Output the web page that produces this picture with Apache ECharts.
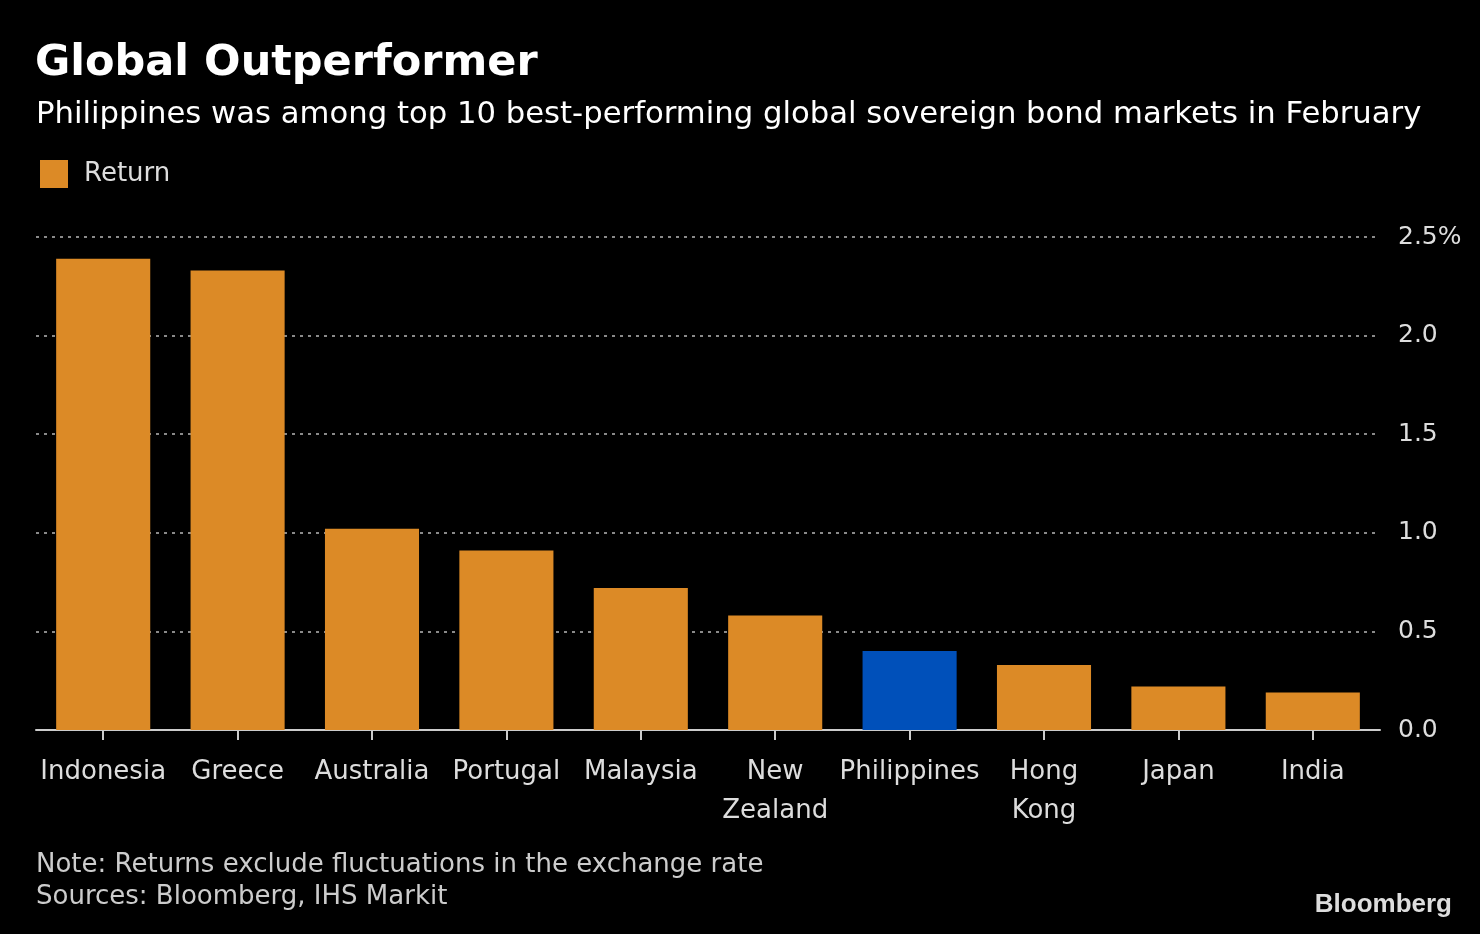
<!DOCTYPE html>
<html>
<head>
<meta charset="utf-8">
<script src="https://cdn.jsdelivr.net/npm/echarts@6/dist/echarts.min.js"></script>
<style>
html,body{margin:0;padding:0;background:#000;}
#chart{width:1480px;height:934px;}
</style>
</head>
<body>
<div id="chart"></div>
<script>
const categories = ['Indonesia','Greece','Australia','Portugal','Malaysia','New\nZealand','Philippines','Hong\nKong','Japan','India'];
const returns = [2.39, 2.33, 1.02, 0.91, 0.72, 0.58, 0.40, 0.33, 0.22, 0.19];
const highlight = 'Philippines';
const yTicks = [0, 0.5, 1.0, 1.5, 2.0, 2.5];

const FONT = 'DejaVu Sans';
const ORANGE = '#DC8A26';
const BLUE = '#0050BA';

const chart = echarts.init(document.getElementById('chart'), null, {renderer:'canvas'});
chart.setOption({
  backgroundColor: '#000',
  animation: false,
  title: [
    {text: 'Global Outperformer', left: 35, top: 42, padding: 0,
     textStyle: {color: '#fff', fontFamily: FONT, fontWeight: 'bold', fontSize: 43}},
    {text: 'Philippines was among top 10 best-performing global sovereign bond markets in February', left: 36, top: 100, padding: 0,
     textStyle: {color: '#fff', fontFamily: FONT, fontWeight: 'normal', fontSize: 30.7}},
    {text: 'Note: Returns exclude fluctuations in the exchange rate\nSources: Bloomberg, IHS Markit', left: 36, top: 849, padding: 0,
     textStyle: {color: '#ccc', fontFamily: FONT, fontWeight: 'normal', fontSize: 26, lineHeight: 32}},
    {text: 'Bloomberg', right: 28, top: 892, padding: 0,
     textStyle: {color: '#ddd', fontFamily: 'Liberation Sans', fontWeight: 'bold', fontSize: 26}}
  ],
  legend: {
    left: 40, top: 160, padding: 0, itemWidth: 28, itemHeight: 28, itemGap: 16,
    icon: 'rect',
    textStyle: {color: '#ddd', fontFamily: FONT, fontSize: 26, padding: [2, 0, 0, 11]},
    data: ['Return']
  },
  grid: {left: 36, right: 100, top: 237, bottom: 204},
  xAxis: {
    type: 'category',
    data: categories,
    axisLine: {show: true, lineStyle: {color: '#ccc', width: 2}},
    axisTick: {show: true, alignWithLabel: true, length: 10, lineStyle: {color: '#ccc', width: 2}},
    axisLabel: {color: '#ddd', fontFamily: FONT, fontSize: 26, lineHeight: 39, margin: 23, interval: 0}
  },
  yAxis: {
    type: 'value',
    position: 'right',
    min: 0, max: 2.5, interval: 0.5,
    axisLine: {show: false},
    axisTick: {show: false},
    axisLabel: {
      color: '#ddd', fontFamily: FONT, fontSize: 25, margin: 18, align: 'left',
      formatter: function(v){ return v === yTicks[yTicks.length-1] ? v.toFixed(1) + '%' : v.toFixed(1); }
    },
    splitLine: {show: true, lineStyle: {color: '#8a8a8a', width: 2, type: [3,5]}}
  },
  series: [{
    name: 'Return',
    type: 'bar',
    barCategoryGap: '30%',
    itemStyle: {color: ORANGE},
    data: returns.map((v,i) => ({
      value: v,
      itemStyle: {color: categories[i] === highlight ? BLUE : ORANGE}
    }))
  }]
});
</script>
</body>
</html>
